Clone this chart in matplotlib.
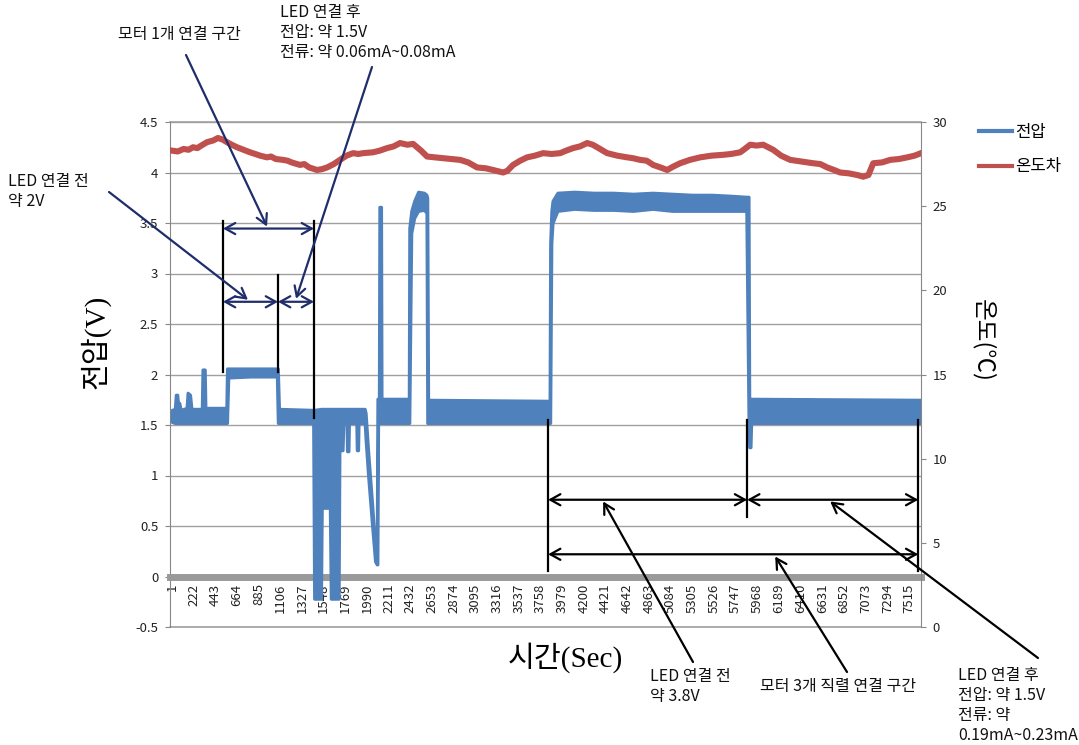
import matplotlib
matplotlib.use("Agg")
import matplotlib.pyplot as plt
from matplotlib.lines import Line2D

plt.rcParams['font.family'] = ['Noto Sans CJK KR', 'DejaVu Sans']

BLUE = '#4F81BD'
RED = '#C0504D'
NAVY = '#1F2D6B'
GRID = '#A0A0A0'

# 시간축 눈금 (초)
time_ticks = [1, 222, 443, 664, 885, 1106, 1327, 1548, 1769, 1990, 2211, 2432,
              2653, 2874, 3095, 3316, 3537, 3758, 3979, 4200, 4421, 4642, 4863,
              5084, 5305, 5526, 5747, 5968, 6189, 6410, 6631, 6852, 7073, 7294,
              7515]
n_samples = 7636

volt_ticks = [-0.5, 0, 0.5, 1, 1.5, 2, 2.5, 3, 3.5, 4, 4.5]
volt_tick_labels = ['-0.5', '0', '0.5', '1', '1.5', '2', '2.5', '3', '3.5', '4', '4.5']
temp_ticks = [0, 5, 10, 15, 20, 25, 30]

# 전압 측정값: 시간(초), 구간 하한, 구간 상한 (V)
volt_t = [0, 30, 40, 55, 65, 75, 90, 150, 160, 185, 200, 305, 312, 335, 342,
          555, 562, 575, 800, 1070, 1080, 1092, 1440,
          1450, 1520, 1528, 1610, 1620, 1700, 1708, 1740, 1748,
          1780, 1785, 1800, 1805, 1880, 1885, 1898, 1903,
          1965, 1975, 2000, 2041, 2071, 2088, 2095, 2102,
          2110, 2115, 2132, 2137, 2415,
          2420, 2440, 2470, 2510, 2570, 2595, 2603, 2612,
          3850, 3856, 3868, 3880, 3930, 4100, 4300, 4500, 4700, 4900,
          5100, 5300, 5500, 5700, 5855, 5878, 5885, 5898, 5905, 7636]
volt_lo = [1.53, 1.52, 1.52, 1.52, 1.52, 1.52, 1.52, 1.52, 1.52, 1.52, 1.52, 1.52, 1.52, 1.52, 1.52,
           1.52, 1.52, 1.97, 1.98, 1.98, 1.52, 1.52, 1.52,
           -0.22, -0.22, 0.68, 0.68, -0.22, -0.22, 1.25, 1.25, 1.52,
           1.52, 1.24, 1.24, 1.52, 1.52, 1.25, 1.25, 1.52,
           1.52, 1.35, 1.00, 0.50, 0.15, 0.12, 0.12, 1.52,
           1.52, 1.52, 1.52, 1.52, 1.52,
           1.52, 3.40, 3.55, 3.62, 3.63, 3.60, 1.52, 1.52,
           1.52, 1.52, 3.30, 3.50, 3.62, 3.64, 3.63, 3.63, 3.62, 3.64,
           3.62, 3.62, 3.62, 3.62, 3.62, 1.52, 1.28, 1.28, 1.52, 1.52]
volt_hi = [1.65, 1.66, 1.80, 1.80, 1.68, 1.72, 1.65, 1.67, 1.82, 1.80, 1.66, 1.66, 2.05, 2.05, 1.67,
           1.67, 2.06, 2.06, 2.06, 2.06, 2.06, 1.66, 1.65,
           1.65, 1.66, 1.66, 1.66, 1.66, 1.66, 1.66, 1.66, 1.66,
           1.66, 1.66, 1.66, 1.66, 1.66, 1.66, 1.66, 1.66,
           1.66, 1.62, 1.25, 0.72, 0.30, 0.20, 1.76, 1.76,
           1.76, 3.66, 3.66, 1.76, 1.76,
           3.45, 3.62, 3.72, 3.81, 3.80, 3.78, 3.75, 1.75,
           1.74, 3.30, 3.62, 3.72, 3.80, 3.81, 3.80, 3.80, 3.79, 3.80,
           3.79, 3.78, 3.78, 3.77, 3.76, 3.76, 1.76, 1.76, 1.76, 1.75]

# 온도 측정값: 시간(초), 온도(℃)
temp_t = [0, 60, 120, 170, 216, 260, 300, 358, 420, 470, 520, 562, 610, 664,
          730, 797, 850, 900, 970, 1010, 1060, 1133, 1180, 1220, 1306, 1350,
          1400, 1480, 1530, 1582, 1650, 1714, 1780, 1847, 1900, 1950, 2051,
          2120, 2194, 2260, 2326, 2400, 2459, 2540, 2601, 2680, 2765, 2850,
          2938, 3020, 3111, 3200, 3274, 3376, 3420, 3478, 3550, 3621, 3700,
          3784, 3870, 3958, 4020, 4090, 4160, 4233, 4290, 4335, 4437, 4540,
          4641, 4700, 4773, 4840, 4906, 4980, 5049, 5110, 5181, 5280, 5385,
          5500, 5619, 5700, 5793, 5840, 5895, 5960, 6027, 6129, 6210, 6303,
          6420, 6537, 6610, 6680, 6750, 6812, 6900, 6986, 7047, 7100, 7149,
          7240, 7322, 7410, 7496, 7570, 7636]
temp_c = [28.3, 28.25, 28.4, 28.35, 28.5, 28.45, 28.6, 28.8, 28.9, 29.05,
          28.95, 28.8, 28.65, 28.5, 28.35, 28.2, 28.1, 28.0, 27.9, 27.95,
          27.8, 27.75, 27.7, 27.6, 27.45, 27.5, 27.3, 27.15, 27.2, 27.3, 27.5,
          27.75, 28.0, 28.15, 28.1, 28.15, 28.2, 28.3, 28.45, 28.55, 28.75,
          28.65, 28.7, 28.3, 27.95, 27.9, 27.85, 27.8, 27.75, 27.6, 27.3, 27.25,
          27.15, 27.0, 27.1, 27.45, 27.7, 27.9, 28.0, 28.15, 28.1, 28.15, 28.3,
          28.45, 28.55, 28.75, 28.65, 28.5, 28.15, 28.0, 27.9, 27.85, 27.75,
          27.7, 27.45, 27.3, 27.15, 27.35, 27.55, 27.75, 27.9, 28.0, 28.05,
          28.1, 28.2, 28.4, 28.65, 28.6, 28.65, 28.35, 28.0, 27.75, 27.65,
          27.55, 27.5, 27.3, 27.15, 27.0, 26.95, 26.85, 26.75, 26.85, 27.55,
          27.6, 27.75, 27.8, 27.9, 28.0, 28.15]

W, H = 1079, 745
fig = plt.figure(figsize=(W / 100, H / 100), dpi=100)
ax = fig.add_axes([170 / W, 118 / H, 751 / W, 505 / H])

# 전압 (주축)
ax.fill_between(volt_t, volt_lo, volt_hi, facecolor=BLUE, edgecolor=BLUE,
                lw=2.2, joinstyle='round', zorder=3)
ax.set_xlim(-19, n_samples)
ax.set_ylim(-0.5, 4.5)
ax.set_yticks(volt_ticks)
ax.set_yticklabels(volt_tick_labels)
ax.grid(axis='y', color=GRID, lw=1)
ax.set_axisbelow(True)
ax.axhline(-0.5, color=GRID, lw=1.2, clip_on=False, zorder=1)
ax.axhline(4.5, color=GRID, lw=1.2, clip_on=False, zorder=1)

ax.spines['top'].set_visible(False)
ax.spines['right'].set_visible(False)
ax.spines['left'].set_color('#878787')
ax.spines['bottom'].set_position(('data', 0))
ax.spines['bottom'].set_color('#9A9A9A')
ax.spines['bottom'].set_linewidth(5)

ax.set_xticks(time_ticks)
ax.set_xticklabels([str(v) for v in time_ticks], rotation=90)
ax.tick_params(axis='x', length=0, pad=5, labelsize=9.5, labelcolor='#222222')
ax.tick_params(axis='y', length=3.5, color='#878787', pad=5, labelsize=9.5,
               labelcolor='#222222')

# 온도 (보조축)
ax2 = ax.twinx()
ax2.plot(temp_t, temp_c, color=RED, lw=4.4, solid_joinstyle='round')
ax2.set_ylim(0, 30)
ax2.set_yticks(temp_ticks)
for side in ('top', 'left', 'bottom'):
    ax2.spines[side].set_visible(False)
ax2.spines['right'].set_color('#878787')
ax2.tick_params(axis='y', length=3.5, color='#878787', pad=5, labelsize=9.5,
                labelcolor='#222222')

# 축 제목
mixed = ['Liberation Serif', 'Noto Sans CJK KR']
fig.text(95 / W, 1 - 342 / H, '전압(V)', rotation=90, ha='center', va='center',
         fontsize=21, family=mixed)
fig.text(565 / W, 1 - 658 / H, '시간(Sec)', ha='center', va='center',
         fontsize=21, family=mixed)
fig.text(983 / W, 1 - 340 / H, '온도(℃)', rotation=-90, ha='center',
         va='center', fontsize=17)

# 범례
fig.legend(handles=[Line2D([], [], color=BLUE, lw=3),
                    Line2D([], [], color=RED, lw=3)],
           labels=['전압', '온도차'], loc='upper left',
           bbox_to_anchor=(979 / W, 1 - 124 / H), frameon=False, fontsize=12,
           handlelength=2.0, handletextpad=0.15, labelspacing=1.05,
           borderpad=0, borderaxespad=0)

# 구간 표시 (전압 좌표)
def vline(x, y0, y1):
    ax2.plot([x, x], [y0, y1], color='black', lw=1.6, transform=ax.transData,
             clip_on=False, zorder=6)

def span(x0, x1, y, color):
    ax2.annotate('', xy=(x1, y), xycoords=ax.transData, xytext=(x0, y),
                 textcoords=ax.transData, annotation_clip=False,
                 arrowprops=dict(arrowstyle='<->,head_length=0.45,head_width=0.25',
                                 mutation_scale=16, lw=1.6, color=color,
                                 shrinkA=0, shrinkB=0), zorder=6)

def pointer(fx, fy, x, y, color):
    ax2.annotate('', xy=(x, y), xycoords=ax.transData,
                 xytext=(fx / W, 1 - fy / H), textcoords='figure fraction',
                 annotation_clip=False,
                 arrowprops=dict(arrowstyle='->,head_length=0.45,head_width=0.25',
                                 mutation_scale=16, lw=1.6, color=color,
                                 shrinkA=0, shrinkB=0), zorder=6)

vline(521, 2.02, 3.52)
vline(1082, 2.02, 2.99)
vline(1449, 1.57, 3.52)
span(521, 1449, 3.445, NAVY)
span(521, 1082, 2.72, NAVY)
span(1082, 1449, 2.72, NAVY)

vline(3835, 0.05, 1.55)
vline(5864, 0.59, 1.55)
vline(7608, 0.05, 1.55)
span(3835, 5864, 0.76, 'black')
span(5864, 7608, 0.76, 'black')
span(3835, 7608, 0.22, 'black')

pointer(109, 192, 776, 2.74, NAVY)
pointer(186, 55, 970, 3.465, NAVY)
pointer(372, 67, 1266, 2.75, NAVY)
pointer(693, 662, 4396, 0.743, 'black')
pointer(847, 672, 6150, 0.198, 'black')
pointer(1038, 658, 6710, 0.743, 'black')

# 설명 문구
note_kw = dict(ha='left', va='top', fontsize=11.5, linespacing=1.22, color='#111111')
fig.text(8 / W, 1 - 173 / H, 'LED 연결 전\n약 2V', **note_kw)
fig.text(118 / W, 1 - 26 / H, '모터 1개 연결 구간', **note_kw)
fig.text(280 / W, 1 - 4 / H, 'LED 연결 후\n전압: 약 1.5V\n전류: 약 0.06mA~0.08mA', **note_kw)
fig.text(650 / W, 1 - 668 / H, 'LED 연결 전\n약 3.8V', **note_kw)
fig.text(760 / W, 1 - 678 / H, '모터 3개 직렬 연결 구간', **note_kw)
fig.text(958 / W, 1 - 667 / H, 'LED 연결 후\n전압: 약 1.5V\n전류: 약\n0.19mA~0.23mA', **note_kw)

fig.savefig('out.png', dpi=100)
